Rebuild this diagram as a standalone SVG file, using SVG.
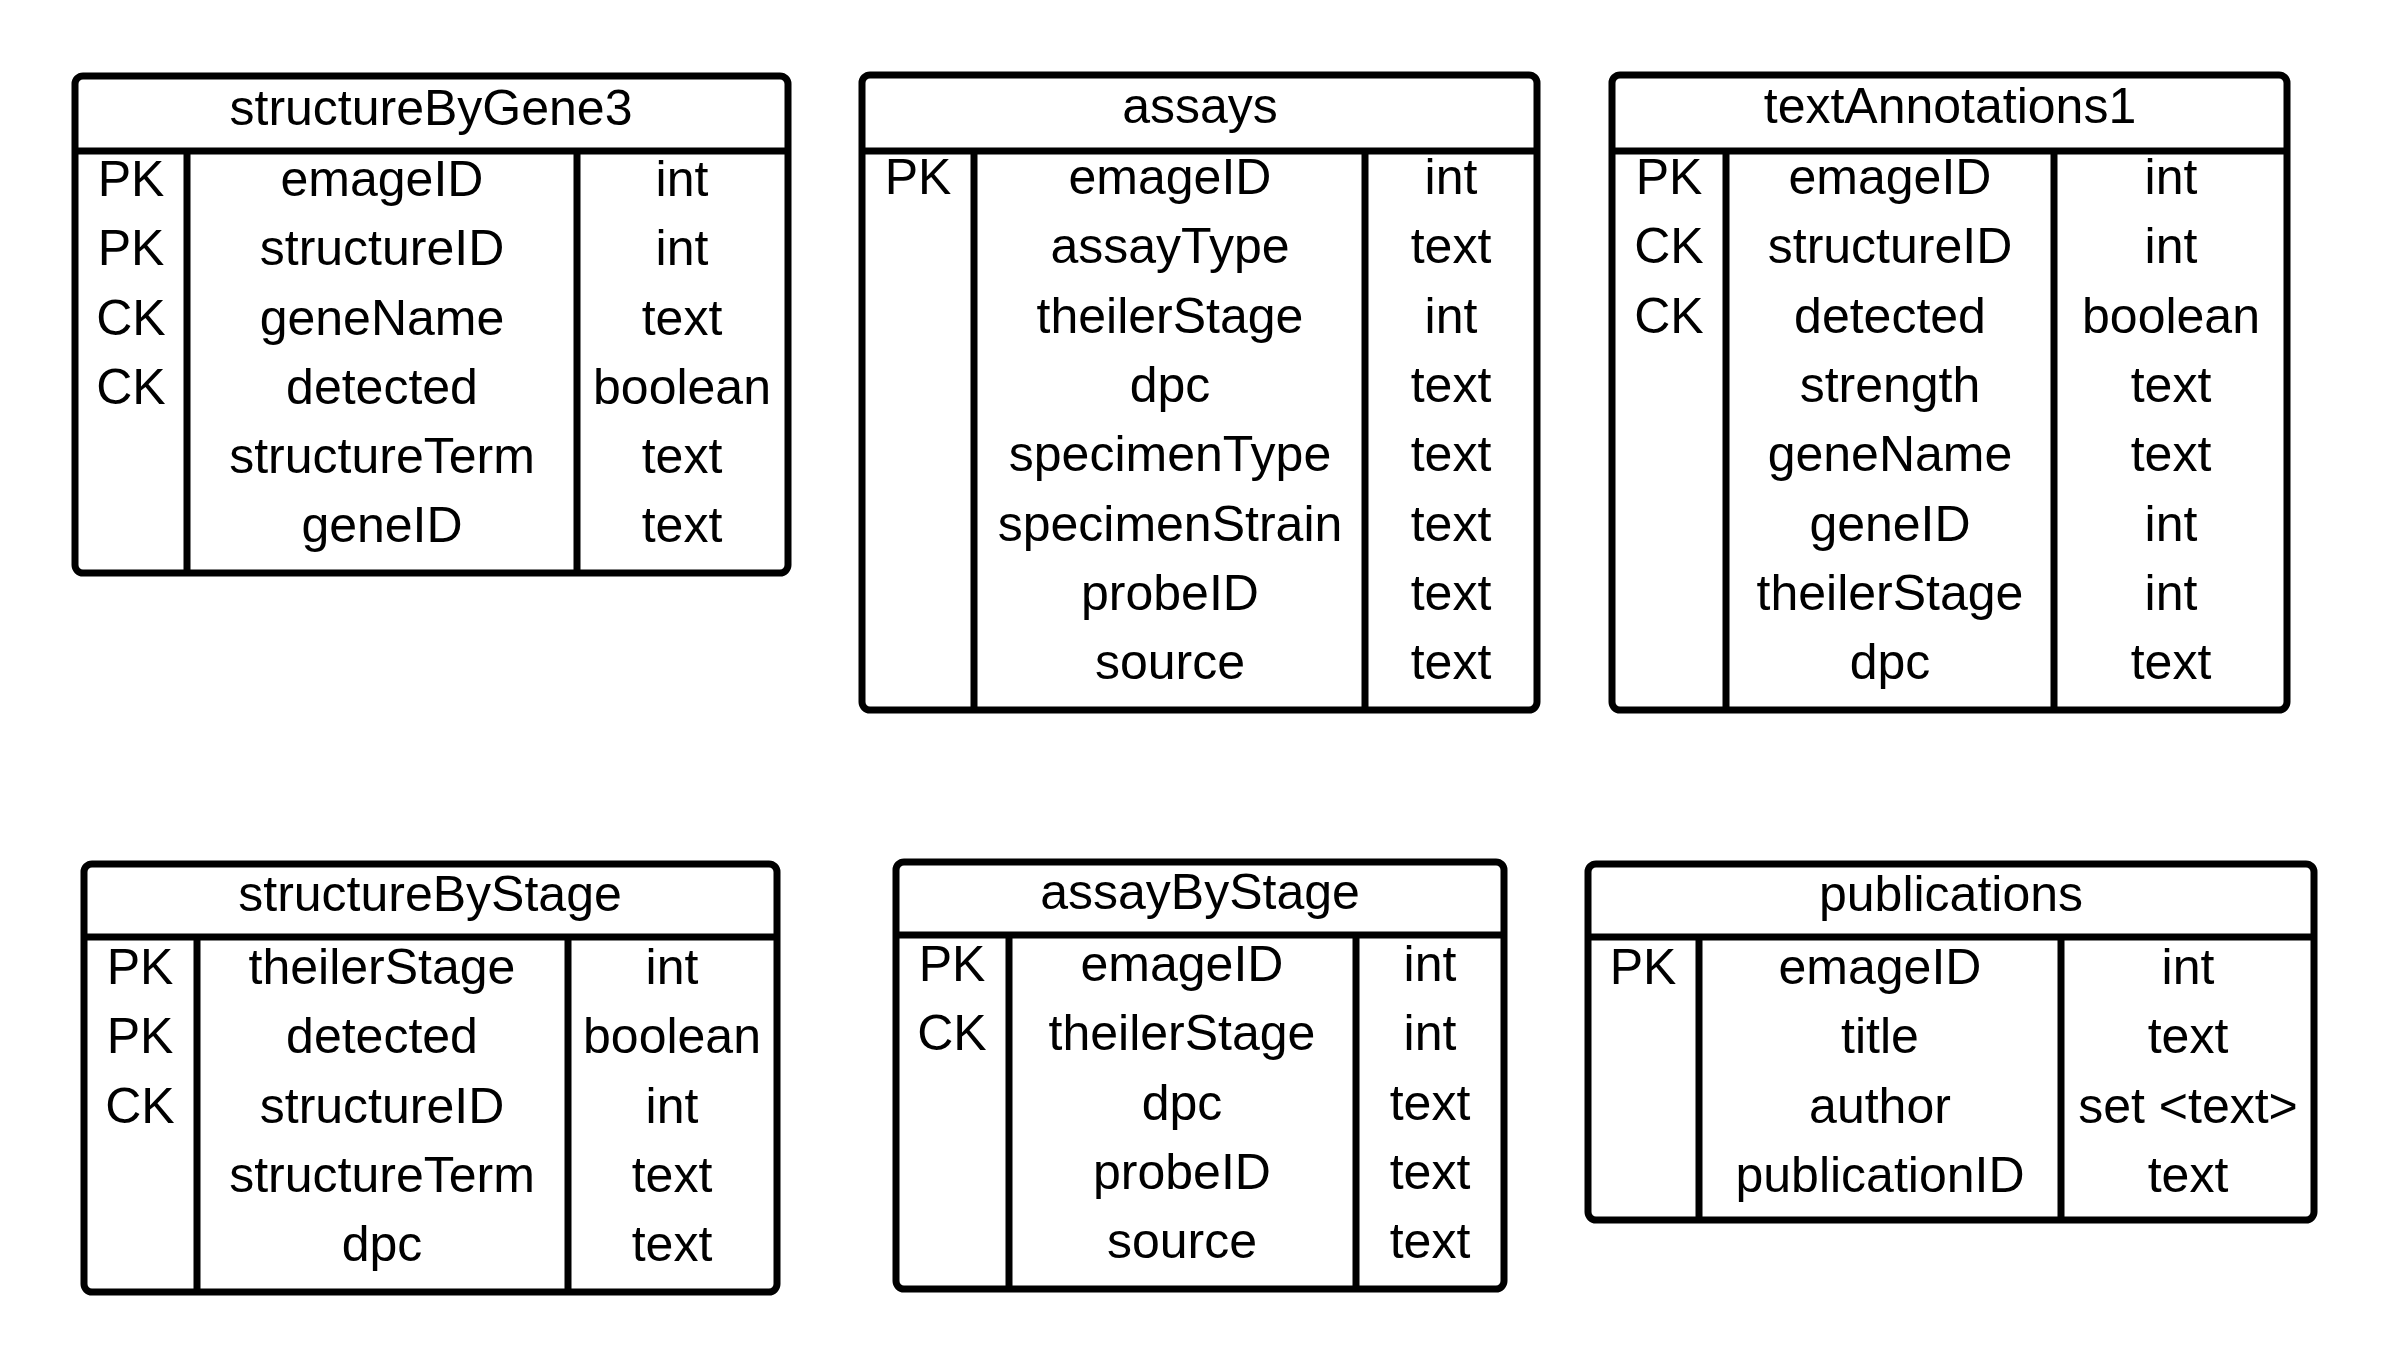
<svg xmlns="http://www.w3.org/2000/svg" width="2389" height="1367" viewBox="0 0 2389 1367">
<style>
.box{fill:#fff;stroke:#000;stroke-width:7}
.ln{stroke:#000;stroke-width:7;fill:none}
text{font-family:"Liberation Sans",Arial,sans-serif;font-size:50px;fill:#000;text-anchor:middle}
</style>
<rect width="2389" height="1367" fill="#fff"/>
<g id="structureByGene3">
<rect class="box" x="75" y="76" width="713" height="497" rx="8"/>
<path class="ln" d="M75 151H788M187 151V573M577 151V573"/>
<text x="431" y="125">structureByGene3</text>
<text x="131" y="196">PK</text><text x="382" y="196">emageID</text><text x="682" y="196">int</text>
<text x="131" y="265">PK</text><text x="382" y="265">structureID</text><text x="682" y="265">int</text>
<text x="131" y="335">CK</text><text x="382" y="335">geneName</text><text x="682" y="335">text</text>
<text x="131" y="404">CK</text><text x="382" y="404">detected</text><text x="682" y="404">boolean</text>
<text x="382" y="473">structureTerm</text><text x="682" y="473">text</text>
<text x="382" y="542">geneID</text><text x="682" y="542">text</text>
</g>
<g id="assays">
<rect class="box" x="862" y="75" width="675" height="635" rx="8"/>
<path class="ln" d="M862 151H1537M974 151V710M1365 151V710"/>
<text x="1200" y="123">assays</text>
<text x="918" y="194">PK</text><text x="1170" y="194">emageID</text><text x="1451" y="194">int</text>
<text x="1170" y="263">assayType</text><text x="1451" y="263">text</text>
<text x="1170" y="333">theilerStage</text><text x="1451" y="333">int</text>
<text x="1170" y="402">dpc</text><text x="1451" y="402">text</text>
<text x="1170" y="471">specimenType</text><text x="1451" y="471">text</text>
<text x="1170" y="541">specimenStrain</text><text x="1451" y="541">text</text>
<text x="1170" y="610">probeID</text><text x="1451" y="610">text</text>
<text x="1170" y="679">source</text><text x="1451" y="679">text</text>
</g>
<g id="textAnnotations1">
<rect class="box" x="1612" y="75" width="675" height="635" rx="8"/>
<path class="ln" d="M1612 151H2287M1726 151V710M2054 151V710"/>
<text x="1950" y="123">textAnnotations1</text>
<text x="1669" y="194">PK</text><text x="1890" y="194">emageID</text><text x="2171" y="194">int</text>
<text x="1669" y="263">CK</text><text x="1890" y="263">structureID</text><text x="2171" y="263">int</text>
<text x="1669" y="333">CK</text><text x="1890" y="333">detected</text><text x="2171" y="333">boolean</text>
<text x="1890" y="402">strength</text><text x="2171" y="402">text</text>
<text x="1890" y="471">geneName</text><text x="2171" y="471">text</text>
<text x="1890" y="541">geneID</text><text x="2171" y="541">int</text>
<text x="1890" y="610">theilerStage</text><text x="2171" y="610">int</text>
<text x="1890" y="679">dpc</text><text x="2171" y="679">text</text>
</g>
<g id="structureByStage">
<rect class="box" x="84" y="864" width="693" height="428" rx="8"/>
<path class="ln" d="M84 937H777M197 937V1292M568 937V1292"/>
<text x="430" y="911">structureByStage</text>
<text x="140" y="984">PK</text><text x="382" y="984">theilerStage</text><text x="672" y="984">int</text>
<text x="140" y="1053">PK</text><text x="382" y="1053">detected</text><text x="672" y="1053">boolean</text>
<text x="140" y="1123">CK</text><text x="382" y="1123">structureID</text><text x="672" y="1123">int</text>
<text x="382" y="1192">structureTerm</text><text x="672" y="1192">text</text>
<text x="382" y="1261">dpc</text><text x="672" y="1261">text</text>
</g>
<g id="assayByStage">
<rect class="box" x="896" y="862" width="608" height="427" rx="8"/>
<path class="ln" d="M896 935H1504M1009 935V1289M1356 935V1289"/>
<text x="1200" y="909">assayByStage</text>
<text x="952" y="981">PK</text><text x="1182" y="981">emageID</text><text x="1430" y="981">int</text>
<text x="952" y="1050">CK</text><text x="1182" y="1050">theilerStage</text><text x="1430" y="1050">int</text>
<text x="1182" y="1120">dpc</text><text x="1430" y="1120">text</text>
<text x="1182" y="1189">probeID</text><text x="1430" y="1189">text</text>
<text x="1182" y="1258">source</text><text x="1430" y="1258">text</text>
</g>
<g id="publications">
<rect class="box" x="1588" y="864" width="726" height="356" rx="8"/>
<path class="ln" d="M1588 937H2314M1699 937V1220M2061 937V1220"/>
<text x="1951" y="911">publications</text>
<text x="1643" y="984">PK</text><text x="1880" y="984">emageID</text><text x="2188" y="984">int</text>
<text x="1880" y="1053">title</text><text x="2188" y="1053">text</text>
<text x="1880" y="1123">author</text><text x="2188" y="1123">set &lt;text&gt;</text>
<text x="1880" y="1192">publicationID</text><text x="2188" y="1192">text</text>
</g>
<g id="connectors"/>
</svg>
